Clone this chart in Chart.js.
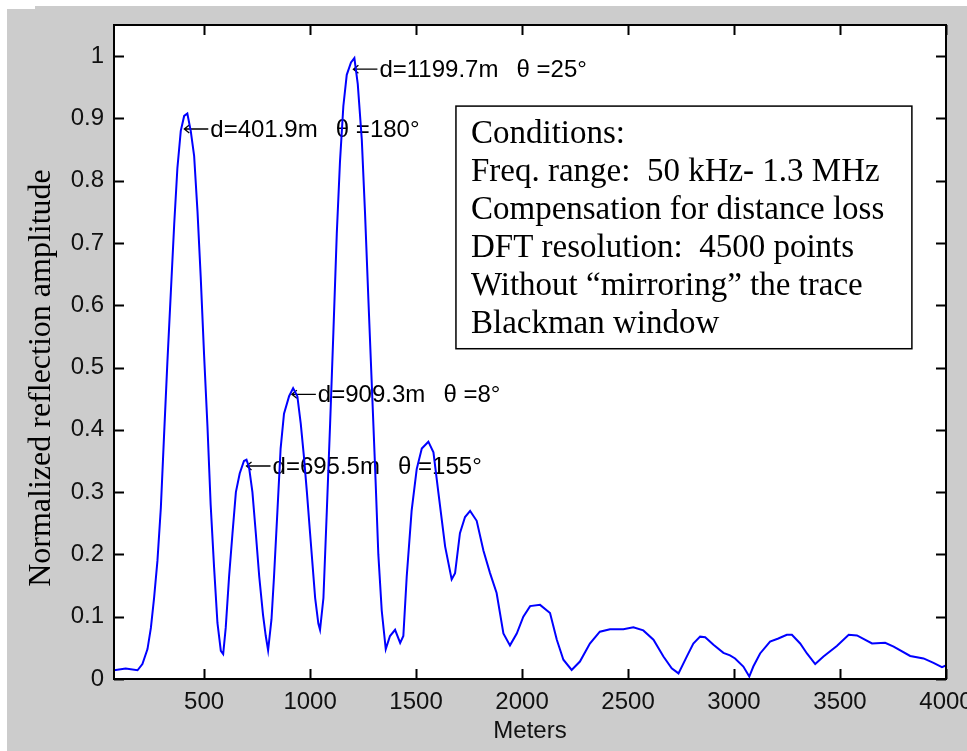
<!DOCTYPE html>
<html>
<head>
<meta charset="utf-8">
<script src="https://cdn.jsdelivr.net/npm/chart.js@4/dist/chart.umd.min.js"></script>
<style>
  html, body { margin: 0; padding: 0; background: #fff; }
  canvas { display: block; }
</style>
</head>
<body>
<canvas id="reflection-chart" width="967" height="751"></canvas>
<script>
const meters = [
  75, 130, 186, 209, 233, 249, 264, 280, 296, 311, 327, 343, 359, 374, 390, 406, 421, 437, 453, 469,
  484, 500, 516, 531, 547, 563, 579, 590, 602, 618, 634, 650, 668, 688, 700, 712, 728, 744, 760, 778,
  791, 802, 818, 830, 846, 861, 877, 901, 920, 940, 956, 971, 985, 1000, 1024, 1039, 1047, 1063, 1079, 1094,
  1110, 1126, 1141, 1157, 1173, 1193, 1209, 1225, 1244, 1259, 1275, 1291, 1307, 1322, 1338, 1357, 1377, 1401, 1425, 1440,
  1456, 1479, 1503, 1527, 1558, 1582, 1605, 1637, 1668, 1684, 1707, 1731, 1755, 1786, 1818, 1849, 1880, 1912, 1943, 1975,
  2006, 2038, 2085, 2132, 2164, 2195, 2234, 2273, 2320, 2367, 2415, 2478, 2525, 2572, 2620, 2667, 2706, 2738, 2777, 2808,
  2840, 2864, 2903, 2950, 2981, 3005, 3044, 3072, 3091, 3123, 3170, 3209, 3249, 3273, 3312, 3344, 3383, 3422, 3485, 3541,
  3580, 3651, 3713, 3753, 3831, 3894, 3941, 3981, 4000
];
const amplitude = [
  0.014, 0.017, 0.014, 0.024, 0.048, 0.082, 0.13, 0.19, 0.275, 0.39, 0.51, 0.62, 0.73, 0.82, 0.88, 0.904, 0.908, 0.88, 0.84, 0.75,
  0.646, 0.52, 0.405, 0.28, 0.18, 0.09, 0.045, 0.04, 0.082, 0.165, 0.234, 0.30, 0.33, 0.35, 0.352, 0.34, 0.30, 0.234, 0.165, 0.103,
  0.069, 0.046, 0.096, 0.165, 0.27, 0.37, 0.426, 0.454, 0.467, 0.454, 0.41, 0.357, 0.30, 0.234, 0.13, 0.089, 0.079, 0.13, 0.27, 0.405,
  0.557, 0.715, 0.83, 0.92, 0.97, 0.99, 0.997, 0.955, 0.866, 0.75, 0.61, 0.474, 0.337, 0.2, 0.11, 0.048, 0.069, 0.079, 0.058, 0.069,
  0.165, 0.27, 0.337, 0.37, 0.381, 0.364, 0.30, 0.213, 0.16, 0.17, 0.234, 0.26, 0.27, 0.254, 0.206, 0.17, 0.138, 0.073, 0.054, 0.073,
  0.10, 0.117, 0.119, 0.106, 0.063, 0.031, 0.0145, 0.028, 0.057, 0.076, 0.080, 0.080, 0.083, 0.078, 0.063, 0.036, 0.017, 0.009, 0.036, 0.057,
  0.068, 0.067, 0.055, 0.042, 0.038, 0.033, 0.020, 0.004, 0.020, 0.041, 0.060, 0.065, 0.071, 0.071, 0.057, 0.041, 0.024, 0.036, 0.053, 0.071,
  0.070, 0.057, 0.058, 0.052, 0.037, 0.033, 0.026, 0.019, 0.022
];

// Picos marcados con flecha
const peakDist = [401.9, 695.5, 909.3, 1199.7];
const peakAmp = [0.883, 0.342, 0.457, 0.979];
const peakAngle = [180, 155, 8, 25];

// Etiquetas de los ejes
const xTicks = [500, 1000, 1500, 2000, 2500, 3000, 3500, 4000];
const yTicks = [0, 0.1, 0.2, 0.3, 0.4, 0.5, 0.6, 0.7, 0.8, 0.9, 1];

const boxLines = [
  "Conditions:",
  "Freq. range:  50 kHz- 1.3 MHz",
  "Compensation for distance loss",
  "DFT resolution:  4500 points",
  "Without \u201cmirroring\u201d the trace",
  "Blackman window"
];

const sansFont = "'Liberation Sans', Arial, sans-serif";
const serifFont = "'Liberation Serif', 'Times New Roman', serif";

// Fondo gris, área blanca, marco, ticks hacia dentro, anotaciones
const matlabLook = {
  id: "matlabLook",
  beforeDraw(chart) {
    const { ctx, chartArea: a } = chart;
    ctx.save();
    ctx.fillStyle = "#fff";
    ctx.fillRect(0, 0, chart.width, chart.height);
    ctx.fillStyle = "#cccccc";
    ctx.fillRect(7, 6, chart.width - 7, chart.height - 6);
    ctx.fillStyle = "#fff";
    ctx.fillRect(7, 6, 28, 3);
    ctx.fillRect(a.left, a.top, a.right - a.left, a.bottom - a.top);
    ctx.restore();
  },
  beforeDatasetsDraw(chart) {
    const { ctx, scales } = chart;
    ctx.save();
    ctx.strokeStyle = "#000";
    ctx.fillStyle = "#000";
    ctx.lineWidth = 1.3;
    ctx.font = "24px " + sansFont;
    ctx.textBaseline = "middle";
    peakDist.forEach((d, i) => {
      const tx = scales.x.getPixelForValue(d);
      const ty = scales.y.getPixelForValue(peakAmp[i]);
      ctx.beginPath();
      ctx.moveTo(tx + 1, ty);
      ctx.lineTo(tx + 25, ty);
      ctx.moveTo(tx + 6, ty - 4);
      ctx.lineTo(tx + 1, ty);
      ctx.lineTo(tx + 6, ty + 4);
      ctx.stroke();
      ctx.fillText("d=" + d + "m  \u2009\u03b8 =" + peakAngle[i] + "\u00b0", tx + 27, ty + 1);
    });
    ctx.restore();
  },
  afterDatasetsDraw(chart) {
    const { ctx, chartArea: a, scales } = chart;
    const w = a.right - a.left;
    const h = a.bottom - a.top;
    ctx.save();

    // caja de condiciones
    const bx = a.left + 0.411 * w;
    const by = a.top + 0.124 * h;
    const bw = 0.548 * w;
    const bh = 0.371 * h;
    ctx.fillStyle = "#fff";
    ctx.fillRect(bx, by, bw, bh);
    ctx.strokeStyle = "#000";
    ctx.lineWidth = 1.5;
    ctx.strokeRect(bx, by, bw, bh);
    ctx.fillStyle = "#000";
    ctx.font = "33px " + serifFont;
    ctx.textBaseline = "middle";
    boxLines.forEach((line, i) => {
      ctx.fillText(line, bx + 15, by + 28 + i * 38);
    });

    // marco del área
    ctx.lineWidth = 2;
    ctx.strokeRect(a.left, a.top, w, h);

    // ticks hacia dentro, también arriba y a la derecha
    ctx.beginPath();
    scales.x.ticks.forEach(t => {
      const px = Math.round(scales.x.getPixelForValue(t.value)) + 0.5;
      ctx.moveTo(px, a.bottom);
      ctx.lineTo(px, a.bottom - 10);
      ctx.moveTo(px, a.top);
      ctx.lineTo(px, a.top + 10);
    });
    scales.y.ticks.forEach(t => {
      const py = Math.round(scales.y.getPixelForValue(t.value)) + 0.5;
      ctx.moveTo(a.left, py);
      ctx.lineTo(a.left + 10, py);
      ctx.moveTo(a.right, py);
      ctx.lineTo(a.right - 10, py);
    });
    ctx.stroke();

    // título del eje Y
    ctx.translate(42, 378);
    ctx.rotate(-Math.PI / 2);
    ctx.textAlign = "center";
    ctx.textBaseline = "middle";
    ctx.font = "32px " + serifFont;
    ctx.fillText("Normalized reflection amplitude", 0, 0);
    ctx.restore();
  }
};

const ctx = document.getElementById("reflection-chart").getContext("2d");

const reflectionChart = new Chart(ctx, {
  type: "line",
  data: {
    datasets: [
      {
        data: meters.map((m, i) => ({ x: m, y: amplitude[i] })),
        borderColor: "#0000ff",
        borderWidth: 2,
        pointRadius: 0,
        tension: 0,
        fill: false
      }
    ]
  },
  options: {
    responsive: false,
    animation: false,
    layout: { padding: { left: 0, top: 25, right: 21, bottom: 0 } },
    plugins: {
      legend: { display: false },
      tooltip: { enabled: false }
    },
    scales: {
      x: {
        type: "linear",
        min: 75,
        max: 4000,
        grid: { display: false, drawTicks: false },
        border: { display: false },
        afterBuildTicks: s => { s.ticks = xTicks.map(v => ({ value: v })); },
        afterFit: s => {
          s.height = 72;
          s.paddingLeft = 0;
          s.paddingRight = 0;
        },
        ticks: {
          autoSkip: false,
          maxRotation: 0,
          padding: 9,
          color: "#111",
          font: { family: sansFont, size: 24 },
          callback: v => String(v)
        },
        title: {
          display: true,
          text: "Meters",
          color: "#111",
          font: { family: sansFont, size: 24 },
          padding: { top: 0, bottom: 5 }
        }
      },
      y: {
        min: 0,
        max: 1.05,
        grid: { display: false, drawTicks: false },
        border: { display: false },
        afterBuildTicks: s => { s.ticks = yTicks.map(v => ({ value: v })); },
        afterFit: s => {
          s.width = 114;
          s.paddingTop = 0;
          s.paddingBottom = 0;
        },
        ticks: {
          autoSkip: false,
          padding: 10,
          color: "#111",
          font: { family: sansFont, size: 24 },
          callback: v => String(v)
        }
      }
    }
  },
  plugins: [matlabLook]
});
</script>
</body>
</html>
